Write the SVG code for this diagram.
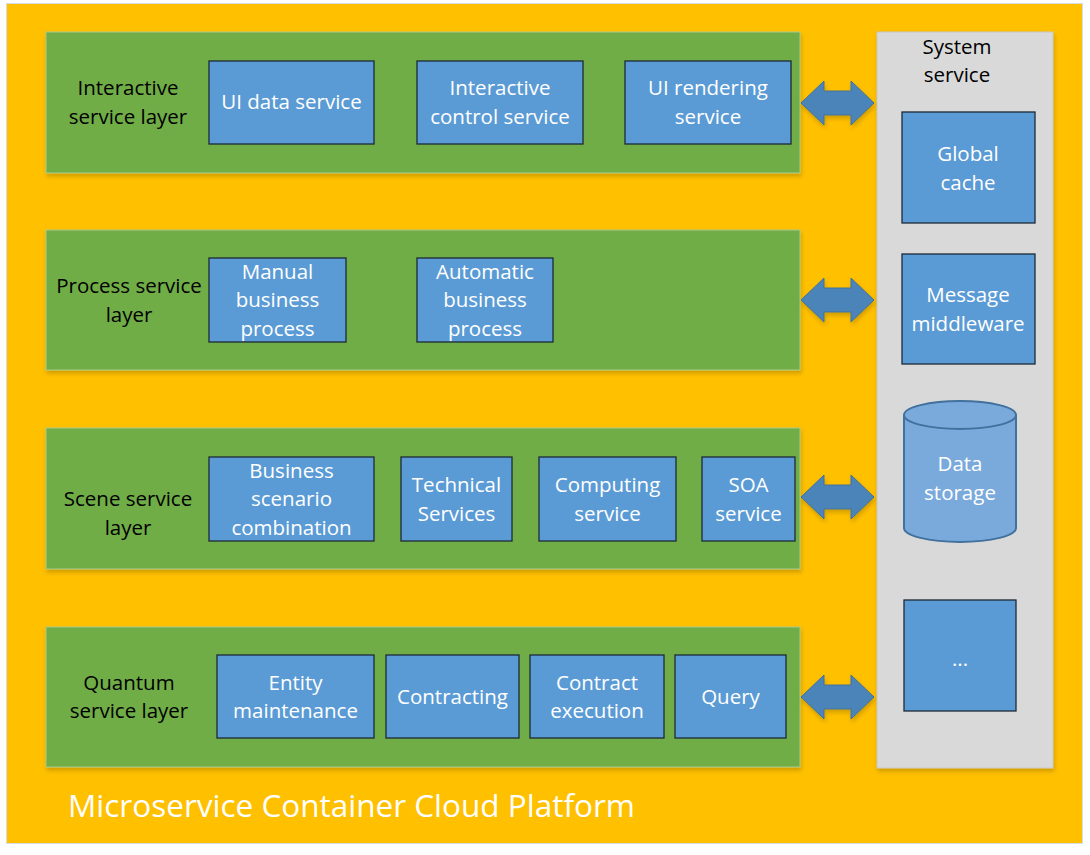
<svg xmlns="http://www.w3.org/2000/svg" width="1090" height="855" viewBox="0 0 1090 855">
<defs>
<style>
.bg{fill:#ffffff}
.outer{fill:#ffc000;stroke:#d6dce5;stroke-width:1}
.panel{fill:#70ad47;stroke:#a9c98f;stroke-width:1}
.sys{fill:#d9d9d9;stroke:#c8c8c8;stroke-width:1}
.box{fill:#5b9bd5;stroke:#1c2a38;stroke-width:1.3}
.cyl{fill:#7aa9db;stroke:#41719c;stroke-width:2}
.arrow{fill:#4b84b8;stroke:#41719c;stroke-width:1}
.lbl{font-family:"Open Sans","Noto Sans",sans-serif;font-size:20.5px;fill:#000;text-anchor:middle}
.wt{font-family:"Open Sans","Noto Sans",sans-serif;font-size:20.5px;fill:#fff;text-anchor:middle}
.title{font-family:"Open Sans","Noto Sans",sans-serif;font-size:31.5px;fill:#fff}
</style>
<filter id="sh" x="-5%" y="-5%" width="110%" height="115%">
<feDropShadow dx="1" dy="3" stdDeviation="2" flood-color="#000" flood-opacity="0.18"/>
</filter>
<path id="dbl" d="M0,0 L23,-22 L23,-12 L50,-12 L50,-22 L73,0 L50,22 L50,12 L23,12 L23,22 Z"/>
</defs>
<rect class="bg" x="0" y="0" width="1090" height="855"/>
<g id="platform">
<rect class="outer" x="6.5" y="3.5" width="1076" height="840"/>
<text class="title" x="68" y="817">Microservice Container Cloud Platform</text>
</g>

<g id="interactive-layer">
<rect class="panel" x="46" y="32" width="754" height="141" filter="url(#sh)"/>
<text class="lbl" x="128" y="95">Interactive</text>
<text class="lbl" x="128" y="124">service layer</text>
</g>
<g id="ui-data-service"><rect class="box" x="209" y="61" width="165" height="83"/><text class="wt" x="291.5" y="109">UI data service</text></g>
<g id="interactive-control-service"><rect class="box" x="417" y="61" width="166" height="83"/><text class="wt" x="500" y="95">Interactive</text><text class="wt" x="500" y="124">control service</text></g>
<g id="ui-rendering-service"><rect class="box" x="625" y="61" width="166" height="83"/><text class="wt" x="708" y="95">UI rendering</text><text class="wt" x="708" y="124">service</text></g>

<g id="process-layer">
<rect class="panel" x="46" y="230" width="754" height="140" filter="url(#sh)"/>
<text class="lbl" x="129" y="293">Process service</text>
<text class="lbl" x="129" y="322">layer</text>
</g>
<g id="manual-business-process"><rect class="box" x="209" y="258" width="137" height="84"/><text class="wt" x="277.5" y="279">Manual</text><text class="wt" x="277.5" y="307">business</text><text class="wt" x="277.5" y="336">process</text></g>
<g id="automatic-business-process"><rect class="box" x="417" y="258" width="136" height="84"/><text class="wt" x="485" y="279">Automatic</text><text class="wt" x="485" y="307">business</text><text class="wt" x="485" y="336">process</text></g>

<g id="scene-layer">
<rect class="panel" x="46" y="428" width="754" height="141" filter="url(#sh)"/>
<text class="lbl" x="128" y="506">Scene service</text>
<text class="lbl" x="128" y="535">layer</text>
</g>
<g id="business-scenario-combination"><rect class="box" x="209" y="457" width="165" height="84"/><text class="wt" x="291.5" y="478">Business</text><text class="wt" x="291.5" y="506">scenario</text><text class="wt" x="291.5" y="535">combination</text></g>
<g id="technical-services"><rect class="box" x="401" y="457" width="111" height="84"/><text class="wt" x="456.5" y="492">Technical</text><text class="wt" x="456.5" y="521">Services</text></g>
<g id="computing-service"><rect class="box" x="539" y="457" width="137" height="84"/><text class="wt" x="607.5" y="492">Computing</text><text class="wt" x="607.5" y="521">service</text></g>
<g id="soa-service"><rect class="box" x="702" y="457" width="93" height="84"/><text class="wt" x="748.5" y="492">SOA</text><text class="wt" x="748.5" y="521">service</text></g>

<g id="quantum-layer">
<rect class="panel" x="46" y="627" width="754" height="140" filter="url(#sh)"/>
<text class="lbl" x="129" y="690">Quantum</text>
<text class="lbl" x="129" y="718">service layer</text>
</g>
<g id="entity-maintenance"><rect class="box" x="217" y="655" width="157" height="83"/><text class="wt" x="295.5" y="690">Entity</text><text class="wt" x="295.5" y="718">maintenance</text></g>
<g id="contracting"><rect class="box" x="386" y="655" width="133" height="83"/><text class="wt" x="452.5" y="704">Contracting</text></g>
<g id="contract-execution"><rect class="box" x="530" y="655" width="134" height="83"/><text class="wt" x="597" y="690">Contract</text><text class="wt" x="597" y="718">execution</text></g>
<g id="query"><rect class="box" x="675" y="655" width="111" height="83"/><text class="wt" x="730.5" y="704">Query</text></g>

<g id="system-service">
<rect class="sys" x="877" y="32" width="176" height="736" filter="url(#sh)"/>
<text class="lbl" x="957" y="54">System</text>
<text class="lbl" x="957" y="82">service</text>
</g>
<g id="global-cache"><rect class="box" x="902" y="112" width="133" height="111"/><text class="wt" x="968" y="161">Global</text><text class="wt" x="968" y="190">cache</text></g>
<g id="message-middleware"><rect class="box" x="902" y="254" width="133" height="110"/><text class="wt" x="968" y="302">Message</text><text class="wt" x="968" y="331">middleware</text></g>
<g id="data-storage">
<path class="cyl" d="M904,415 L904,528 A56,14 0 0 0 1016,528 L1016,415"/>
<ellipse class="cyl" cx="960" cy="415" rx="56" ry="14"/>
<text class="wt" x="960" y="471">Data</text><text class="wt" x="960" y="500">storage</text>
</g>
<g id="more"><rect class="box" x="904" y="600" width="112" height="111"/><text class="wt" x="960" y="666">...</text></g>

<g id="connectors" filter="url(#sh)">
<use href="#dbl" class="arrow" x="801" y="103"/>
<use href="#dbl" class="arrow" x="801" y="300"/>
<use href="#dbl" class="arrow" x="801" y="497"/>
<use href="#dbl" class="arrow" x="801" y="697"/>
</g>
</svg>
